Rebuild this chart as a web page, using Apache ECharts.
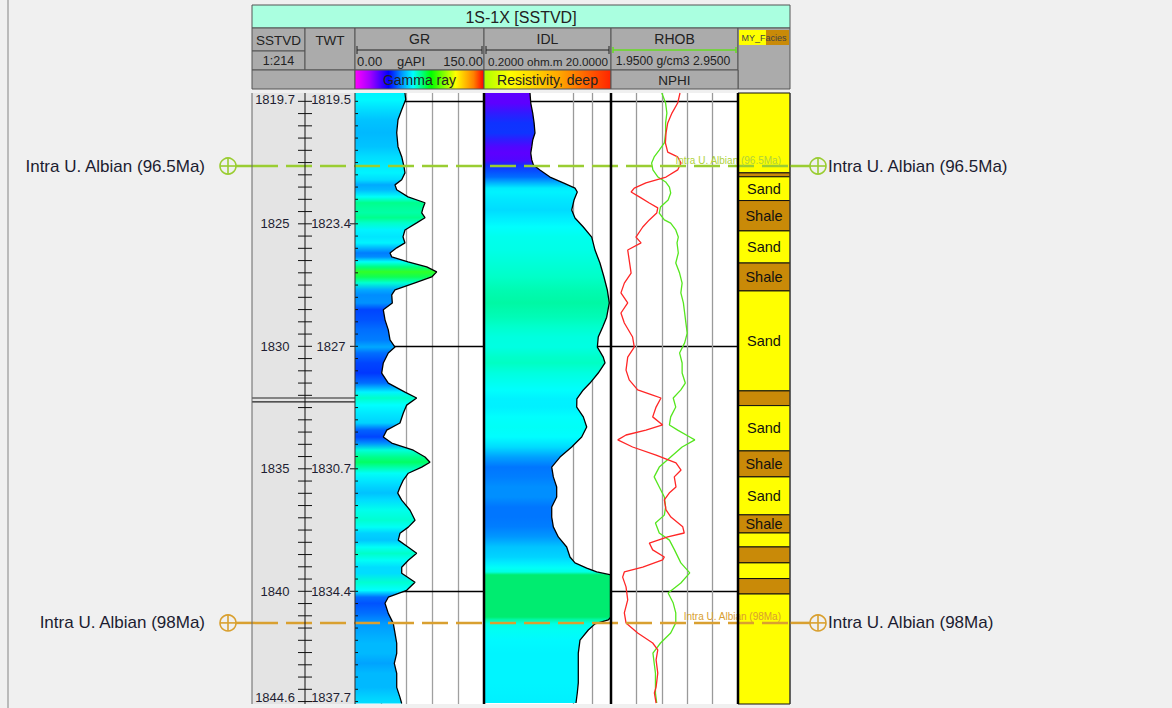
<!DOCTYPE html>
<html><head><meta charset="utf-8">
<script src="https://cdn.jsdelivr.net/npm/echarts@6/dist/echarts.min.js"></script>
<style>html,body{margin:0;padding:0;background:#f0f0f0;}#c{width:1172px;height:708px;}</style>
</head><body><div id="c"></div>
<script>
// ---------------- DATA ----------------
const depthTop = 1819.66, depthBottom = 1844.6;
const labelDepths = [1819.66, 1825, 1830, 1835, 1840, 1844.6];
const sstvdLabels = ['1819.7', '1825', '1830', '1835', '1840', '1844.6'];
const twtLabels = ['1819.5', '1823.4', '1827', '1830.7', '1834.4', '1837.7'];
const refDepths = [1820, 1830, 1840];
const breakDepths = [1832.11, 1832.27];

const grDepth = [1819.66,1819.93,1820.34,1820.75,1821.28,1821.85,1822.26,1822.67,1822.92,1823.20,1823.41,1823.61,1823.90,1824.14,1824.35,1824.55,1824.75,1824.96,1825.25,1825.53,1825.78,1825.98,1826.19,1826.35,1826.55,1826.76,1826.96,1827.17,1827.41,1827.70,1827.90,1828.23,1828.51,1828.92,1829.33,1829.74,1830.03,1830.27,1830.68,1831.09,1831.50,1831.87,1832.11,1832.40,1832.72,1833.13,1833.42,1833.70,1833.95,1834.24,1834.52,1834.73,1834.93,1835.18,1835.46,1835.75,1835.99,1836.28,1836.69,1837.10,1837.38,1837.63,1837.91,1838.20,1838.45,1838.73,1839.02,1839.26,1839.63,1839.96,1840.24,1840.49,1840.90,1841.31,1841.71,1842.12,1842.53,1842.94,1843.35,1843.92,1844.33,1844.58];
const grValues = [58.1,59.0,54.3,50.0,48.5,50.0,54.3,57.0,58.1,54.3,46.5,48.5,61.6,81.4,79.1,77.6,81.4,71.7,58.1,55.8,58.1,48.5,40.7,42.7,61.6,83.4,95.0,89.2,69.8,46.5,42.7,43.4,32.9,34.9,38.7,40.7,46.5,38.7,32.9,31.0,38.7,58.1,71.7,60.1,56.2,52.3,36.9,32.9,42.7,67.8,81.4,87.2,77.6,62.0,56.2,52.3,49.7,54.3,64.0,69.8,62.0,52.3,50.3,62.0,71.7,62.0,54.3,54.3,69.8,60.1,38.7,34.9,38.7,44.5,46.5,48.5,48.5,45.7,48.5,48.5,52.3,54.3];

const idlDepth = [1819.66,1820.07,1820.48,1820.88,1821.29,1821.58,1821.86,1822.11,1822.39,1822.60,1822.80,1823.09,1823.33,1823.54,1823.70,1824.03,1824.44,1824.76,1825.13,1825.54,1826.07,1826.60,1827.17,1827.70,1828.23,1828.81,1829.21,1829.62,1830.03,1830.44,1830.68,1831.09,1831.50,1831.78,1832.15,1832.48,1832.88,1833.29,1833.70,1834.11,1834.52,1834.93,1835.33,1835.74,1836.15,1836.56,1836.97,1837.37,1837.78,1838.19,1838.60,1838.84,1839.05,1839.21,1839.33,1839.82,1840.35,1841.05,1841.17,1841.33,1841.58,1841.99,1842.52,1843.09,1843.74,1844.15,1844.56];
const idlValues = [1.06,1.09,1.17,1.23,1.27,1.17,1.13,1.09,1.13,1.20,1.52,2.19,3.55,5.42,5.89,5.23,4.81,5.42,7.33,9.94,11.2,13.4,15.5,17.5,18.8,17.1,14.8,12.6,12.2,15.1,16.1,12.6,9.34,7.33,5.8,5.77,7.33,8.29,6.91,4.81,3.15,2.33,2.47,2.79,2.79,2.33,2.33,2.47,2.96,4.01,4.52,5.42,8.29,11.9,20,20,20,20,18.1,11.2,8.78,6.50,6.11,6.11,6.11,5.89,5.62];

const rhobDepth = [1819.66,1820.07,1820.48,1820.88,1821.29,1821.70,1821.99,1822.27,1822.52,1822.80,1823.09,1823.29,1823.50,1823.74,1824.03,1824.31,1824.56,1824.84,1824.97,1825.25,1825.54,1825.78,1826.19,1826.60,1827.01,1827.42,1827.82,1828.23,1828.64,1829.05,1829.46,1829.86,1830.27,1830.68,1831.09,1831.50,1831.78,1832.11,1832.48,1832.88,1833.21,1833.42,1833.70,1833.82,1834.11,1834.52,1834.93,1835.33,1835.74,1836.15,1836.56,1836.89,1837.21,1837.62,1837.91,1838.31,1838.84,1839.25,1839.66,1840.07,1840.48,1840.88,1841.29,1841.70,1842.11,1842.52,1842.93,1843.34,1843.74,1844.15,1844.56];
const rhobValues = [2.35,2.38,2.39,2.38,2.38,2.37,2.33,2.29,2.27,2.28,2.32,2.38,2.41,2.42,2.40,2.34,2.33,2.37,2.42,2.46,2.48,2.47,2.48,2.46,2.49,2.51,2.50,2.52,2.53,2.54,2.55,2.53,2.49,2.51,2.51,2.535,2.50,2.44,2.46,2.42,2.41,2.475,2.57,2.61,2.51,2.42,2.33,2.29,2.33,2.37,2.38,2.37,2.30,2.33,2.41,2.45,2.50,2.57,2.50,2.40,2.44,2.46,2.46,2.42,2.34,2.28,2.29,2.30,2.30,2.30,2.31];

const nphiDepth = [1819.66,1820.07,1820.48,1820.88,1821.29,1821.70,1822.07,1822.27,1822.52,1822.80,1823.09,1823.33,1823.54,1823.70,1823.90,1824.15,1824.35,1824.56,1824.84,1825.13,1825.54,1825.78,1826.07,1826.48,1827.01,1827.42,1827.82,1828.23,1828.64,1829.05,1829.62,1830.03,1830.44,1830.97,1831.37,1831.78,1831.99,1832.11,1832.48,1832.88,1833.21,1833.42,1833.62,1833.82,1834.11,1834.44,1834.76,1835.05,1835.33,1835.74,1835.99,1836.27,1836.68,1836.97,1837.37,1837.62,1837.78,1838.03,1838.31,1838.60,1838.72,1839.01,1839.21,1839.42,1839.82,1840.35,1840.88,1841.29,1841.70,1842.11,1842.39,1842.80,1843.34,1843.91,1844.15,1844.56];
const nphiValues = [0.124,0.135,0.162,0.182,0.190,0.193,0.182,0.135,0.119,0.135,0.190,0.285,0.340,0.355,0.316,0.269,0.229,0.234,0.269,0.300,0.332,0.308,0.371,0.364,0.355,0.387,0.403,0.371,0.403,0.387,0.348,0.340,0.371,0.379,0.364,0.324,0.253,0.214,0.237,0.253,0.206,0.285,0.379,0.418,0.348,0.237,0.143,0.119,0.151,0.143,0.175,0.198,0.190,0.167,0.111,0.104,0.182,0.269,0.253,0.198,0.206,0.300,0.387,0.395,0.379,0.371,0.387,0.379,0.324,0.253,0.229,0.237,0.229,0.237,0.245,0.237];

const faciesTop  = [1818.5,1822.92,1823.08,1824.05,1825.29,1826.60,1827.74,1831.82,1832.42,1834.27,1835.33,1836.88,1837.62,1838.19,1838.84,1839.48,1840.11];
const faciesBase = [1822.92,1823.08,1824.05,1825.29,1826.60,1827.74,1831.82,1832.42,1834.27,1835.33,1836.88,1837.62,1838.19,1838.84,1839.48,1840.11,1846.0];
const faciesType = ['Sand','Shale','Sand','Shale','Sand','Shale','Sand','Shale','Sand','Shale','Sand','Shale','Sand','Shale','Sand','Shale','Sand'];

const markerNames = ['Intra U. Albian (96.5Ma)', 'Intra U. Albian (98Ma)'];
const markerDepths = [1822.64, 1841.29];

// ---------------- STYLE ----------------
const FONT = '"Liberation Sans", Arial, sans-serif';
const markerColors = ['#9acd32', '#d9a030'];
const markerTextColors = ['#b0d23c', '#d9a030'];
const faciesColors = {Sand: '#ffff00', Shale: '#c98a08'};
const grPaletteStops = [[0,'#ff00ff'],[15,'#8000ff'],[30,'#0030ff'],[40,'#0078ff'],[50,'#00c4ff'],[60,'#00ffff'],[75,'#00ffb8'],[87,'#00ff66'],[100,'#50ff00'],[115,'#ffff00'],[130,'#ff9000'],[150,'#ff0000']];
const idlPaletteStops = [[0.2,'#ff00ff'],[1.12,'#5a00ff'],[1.21,'#1030ff'],[2.0,'#0060ff'],[2.8,'#0090ff'],[4.0,'#00c4ff'],[5.5,'#00eeff'],[7,'#00ffff'],[12,'#00ffe4'],[16,'#00ffc4'],[18.8,'#00f8a4'],[20,'#00ec70']];

function hexToRgb(h){return [parseInt(h.slice(1,3),16),parseInt(h.slice(3,5),16),parseInt(h.slice(5,7),16)];}
function makePalette(stops, logScale){
  const t = x => logScale ? Math.log10(x) : x;
  return function(v){
    const tv = t(v);
    if (tv <= t(stops[0][0])) return stops[0][1];
    for (let i = 1; i < stops.length; i++){
      const a = t(stops[i-1][0]), b = t(stops[i][0]);
      if (tv <= b){
        const f = (tv - a) / (b - a);
        const c0 = hexToRgb(stops[i-1][1]), c1 = hexToRgb(stops[i][1]);
        return 'rgb(' + c0.map((c,k)=>Math.round(c + (c1[k]-c)*f)).join(',') + ')';
      }
    }
    return stops[stops.length-1][1];
  };
}
const grPalette = makePalette(grPaletteStops, false);
const idlPalette = makePalette(idlPaletteStops, true);

const halfTicks = [];
for (let d = 1820; d <= 1844.5 + 1e-9; d += 0.5) halfTicks.push(+d.toFixed(1));
const majorTicks = labelDepths.slice(1, -1);

function labelFor(arr){
  return function(v){ const i = labelDepths.findIndex(d => Math.abs(d - v) < 1e-6); return i >= 0 ? arr[i] : ''; };
}

function fillRender(depths, values, baseValue, palette){
  return function(params, api){
    const pts = depths.map((d,i)=>api.coord([values[i], d]));
    const baseX = api.coord([baseValue, depths[0]])[0];
    const y0 = pts[0][1], y1 = pts[pts.length-1][1];
    const stops = pts.map((p,i)=>({offset: Math.min(1, Math.max(0, (p[1]-y0)/(y1-y0))), color: palette(values[i])}));
    return {type:'polygon', silent:true, shape:{points: pts.concat([[baseX,y1],[baseX,y0]])},
      style:{fill: new echarts.graphic.LinearGradient(0,0,0,1,stops), stroke:null}};
  };
}

// ---------------- HEADER (graphic) ----------------
const G = [];
function rect(x,y,w,h,fill,stroke){ G.push({type:'rect', silent:true, z:100, shape:{x,y,width:w,height:h}, style:{fill, stroke: stroke===undefined?'#555':stroke, lineWidth:1}}); }
function text(str,x,y,size,align,color){ G.push({type:'text', silent:true, z:101, style:{text:str, x, y, font: size+'px '+FONT, fill: color||'#222', align: align||'center', verticalAlign:'middle'}}); }
function line(x1,y1,x2,y2,color,w){ G.push({type:'line', silent:true, z:102, shape:{x1,y1,x2,y2}, style:{stroke:color, lineWidth:w}}); }
const HG = '#ababab';
line(8,0,8,708,'#a8a8a8',1.5);
rect(252,5,538,23,'#aaffe0'); text('1S-1X [SSTVD]',521,17,16);
rect(252,28,53,23,HG); text('SSTVD',278.5,40,13.5);
rect(252,51,53,19,HG); text('1:214',278.5,61,12.5);
rect(305,28,50,42,HG); text('TWT',330,40,13.5);
rect(355,28,129,42,HG); text('GR',419.5,39,14);
line(357,50,482,50,'#222',1); line(357,46,357,54,'#222',1); line(482,46,482,54,'#222',1);
text('0.00',357,61,13,'left'); text('gAPI',411,61,13); text('150.00',483,61,13,'right');
rect(484,28,127,42,HG); text('IDL',547.5,39,14);
line(486,50,609,50,'#222',1); line(486,46,486,54,'#222',1); line(609,46,609,54,'#222',1);
text('0.2000 ohm.m 20.0000',548,61,11.7);
rect(611,28,127,42,HG); text('RHOB',674.5,39,14);
line(613,50,736,50,'#66dd22',1.5); line(613,47,613,53,'#66dd22',1.5); line(736,47,736,53,'#66dd22',1.5);
text('1.9500 g/cm3 2.9500',673,61,12.2);
rect(738,28,52,61,HG);
rect(739,30,27,15,'#ffff00',null); rect(766,30,23,15,'#c98a08',null); text('MY_Facies',764,37.5,9,'center','#444');
rect(252,70,103,19,HG);
rect(355,70,129,19,new echarts.graphic.LinearGradient(0,0,1,0,[{offset:0,color:'#ff00ff'},{offset:0.12,color:'#a000ff'},{offset:0.26,color:'#0000ff'},{offset:0.37,color:'#00a0ff'},{offset:0.45,color:'#00ffff'},{offset:0.59,color:'#00ff00'},{offset:0.78,color:'#ffff00'},{offset:0.92,color:'#ff8000'},{offset:1,color:'#ff0000'}]));
text('Gamma ray',419.5,80,14);
rect(484,70,127,19,new echarts.graphic.LinearGradient(0,0,1,0,[{offset:0,color:'#aaff00'},{offset:0.2,color:'#ffff00'},{offset:0.6,color:'#ffa500'},{offset:1,color:'#ff2400'}]));
text('Resistivity, deep',547.5,80,14);
rect(611,70,127,19,HG); text('NPHI',674.5,80,13.5);
// track borders
line(252,93,252,704,'#666',1);
line(305,93,305,704,'#111',1);
line(355,93,355,704,'#333',1);
line(484,93,484,704,'#000',2.5);
line(611,93,611,704,'#000',2.5);
line(738,93,738,704,'#000',2.5);
line(790,93,790,704,'#444',1);

// ---------------- CHART ----------------
const chart = echarts.init(document.getElementById('c'), null, {renderer:'svg'});
const gridBase = {top:93, bottom:4, outerBoundsMode:'none', containLabel:false};
const depthAxis = {type:'value', min:depthTop, max:depthBottom, inverse:true};
const labelStyle = {fontSize:13, color:'#1e1e32', fontFamily:FONT};
const hiddenX = (g,min,max,extra) => Object.assign({type:'value', gridIndex:g, min, max, show:false}, extra||{});

const option = {
  backgroundColor:'#f0f0f0',
  animation:false,
  textStyle:{fontFamily:FONT},
  graphic:{elements:G},
  grid:[
    Object.assign({left:252, width:53, show:true, backgroundColor:'#e4e4e4', borderWidth:0}, gridBase),
    Object.assign({left:305, width:50, show:true, backgroundColor:'#e4e4e4', borderWidth:0}, gridBase),
    Object.assign({left:355, width:129, show:true, backgroundColor:'#ffffff', borderWidth:0}, gridBase),
    Object.assign({left:484, width:127, show:true, backgroundColor:'#ffffff', borderWidth:0}, gridBase),
    Object.assign({left:611, width:127, show:true, backgroundColor:'#ffffff', borderWidth:0}, gridBase),
    Object.assign({left:738, width:52, show:false}, gridBase),
    Object.assign({left:0, right:0, show:false}, gridBase)
  ],
  xAxis:[
    hiddenX(0,0,1), hiddenX(1,0,1),
    {type:'value', gridIndex:2, min:0, max:150, interval:30, axisLine:{show:false}, axisTick:{show:false}, axisLabel:{show:false},
      splitLine:{show:true, lineStyle:{color:'#a0a0a0', width:1.3}}},
    {type:'log', logBase:10, gridIndex:3, min:0.2, max:20, show:false},
    hiddenX(4,1.95,2.95),
    hiddenX(4,-0.15,0.45,{inverse:true}),
    hiddenX(5,0,1),
    hiddenX(6,0,1172)
  ],
  yAxis:[
    Object.assign({gridIndex:0, position:'right', axisLine:{show:false}, axisTick:{show:false},
      axisLabel:Object.assign({show:true, inside:true, margin:30, align:'center', customValues:labelDepths, formatter:labelFor(sstvdLabels),
        verticalAlignMinLabel:'top', verticalAlignMaxLabel:'bottom'}, labelStyle),
      splitLine:{show:false}}, depthAxis),
    Object.assign({gridIndex:1, position:'right', axisLine:{show:false}, axisTick:{show:false},
      axisLabel:Object.assign({show:true, inside:true, margin:24, align:'center', customValues:labelDepths, formatter:labelFor(twtLabels),
        verticalAlignMinLabel:'top', verticalAlignMaxLabel:'bottom'}, labelStyle),
      splitLine:{show:false}}, depthAxis),
    Object.assign({gridIndex:2, show:false}, depthAxis),
    Object.assign({gridIndex:3, show:false}, depthAxis),
    Object.assign({gridIndex:4, show:false}, depthAxis),
    Object.assign({gridIndex:5, show:false}, depthAxis),
    Object.assign({gridIndex:6, show:false}, depthAxis)
  ],
  series:[
    // GR fill
    {type:'custom', xAxisIndex:2, yAxisIndex:2, z:2, silent:true, data:[[grValues[0], grDepth[0]]],
      renderItem: fillRender(grDepth, grValues, 0, grPalette)},
    // GR outline
    {type:'line', name:'GR', xAxisIndex:2, yAxisIndex:2, z:4, silent:true, symbol:'none',
      lineStyle:{color:'#000', width:1.3}, data: grDepth.map((d,i)=>[grValues[i], d]),
      markLine:{silent:true, z:1, symbol:['none','none'], animation:false, label:{show:false},
        lineStyle:{color:'#000', type:'solid', width:1.3}, data: refDepths.map(d=>({yAxis:d}))}},
    // IDL fill
    {type:'custom', xAxisIndex:3, yAxisIndex:3, z:2, silent:true, data:[[idlValues[0], idlDepth[0]]],
      renderItem: fillRender(idlDepth, idlValues, 0.2, idlPalette)},
    // IDL outline
    {type:'line', name:'IDL', xAxisIndex:3, yAxisIndex:3, z:4, silent:true, symbol:'none',
      lineStyle:{color:'#000', width:1.3}, data: idlDepth.map((d,i)=>[idlValues[i], d]),
      markLine:{silent:true, z:1, symbol:['none','none'], animation:false, label:{show:false},
        lineStyle:{color:'#000', type:'solid', width:1.3},
        data: refDepths.map(d=>({yAxis:d})).concat([5,10].map(v=>({xAxis:v, lineStyle:{color:'#9a9a9a', type:'solid', width:1.3}})))}},
    // RHOB
    {type:'line', name:'RHOB', xAxisIndex:4, yAxisIndex:4, z:4, silent:true, symbol:'none',
      lineStyle:{color:'#55e61e', width:1.3}, data: rhobDepth.map((d,i)=>[rhobValues[i], d]),
      markLine:{silent:true, z:1, symbol:['none','none'], animation:false, label:{show:false},
        lineStyle:{color:'#000', type:'solid', width:1.3},
        data: refDepths.map(d=>({yAxis:d})).concat([2.15,2.35,2.55,2.75].map(v=>({xAxis:v, lineStyle:{color:'#9a9a9a', type:'solid', width:1.3}})))}},
    // NPHI
    {type:'line', name:'NPHI', xAxisIndex:5, yAxisIndex:4, z:4, silent:true, symbol:'none',
      lineStyle:{color:'#ff2626', width:1.3}, data: nphiDepth.map((d,i)=>[nphiValues[i], d])},
    // Facies
    {type:'custom', xAxisIndex:6, yAxisIndex:5, z:3, silent:true,
      data: faciesTop.map((t,i)=>[t, faciesBase[i]]),
      renderItem(params, api){
        const i = params.dataIndex;
        const top = api.value(0), base = api.value(1);
        const p0 = api.coord([0, top]), p1 = api.coord([1, base]);
        const cs = params.coordSys;
        const r = echarts.graphic.clipRectByRect({x:p0[0], y:p0[1], width:p1[0]-p0[0], height:p1[1]-p0[1]},
          {x:cs.x, y:cs.y, width:cs.width, height:cs.height});
        if (!r) return null;
        const name = faciesType[i];
        const ch = [{type:'rect', shape:r, style:{fill:faciesColors[name], stroke:'#111', lineWidth:1}}];
        const full = p0[1] >= cs.y - 0.5 && p1[1] <= cs.y + cs.height + 0.5;
        if (full && r.height >= 17) ch.push({type:'text', style:{text:name, x:r.x + r.width/2, y:r.y + r.height/2,
          align:'center', verticalAlign:'middle', font:'14.5px '+FONT, fill:'#111'}});
        return {type:'group', children:ch};
      }},
    // depth-column ticks (half metre)
    {type:'custom', xAxisIndex:7, yAxisIndex:6, z:8, silent:true, data: halfTicks.map(d=>[0,d]),
      renderItem(params, api){
        const d = api.value(1);
        const y = api.coord([0, d])[1];
        const X = v => api.coord([v, d])[0];
        const major = majorTicks.indexOf(d) >= 0;
        const ch = [
          {type:'line', shape:{x1:X(298), y1:y, x2:X(312), y2:y}, style:{stroke:'#111', lineWidth:1}},
          {type:'line', shape:{x1:X(major ? 350 : 355), y1:y, x2:X(358), y2:y}, style:{stroke:'#111', lineWidth:1}}
        ];
        return {type:'group', children:ch};
      }},
    // break lines in depth column
    {type:'custom', xAxisIndex:7, yAxisIndex:6, z:8, silent:true, data: breakDepths.map(d=>[0,d]),
      renderItem(params, api){
        const d = api.value(1);
        const a = api.coord([252, d]), b = api.coord([355, d]);
        return {type:'line', shape:{x1:a[0], y1:a[1], x2:b[0], y2:b[1]}, style:{stroke:'#222', lineWidth:1.2}};
      }},
    // Markers
    {type:'custom', xAxisIndex:7, yAxisIndex:6, z:10, silent:true, clip:false, data: markerDepths.map(d=>[0,d]),
      renderItem(params, api){
        const i = params.dataIndex;
        const d = api.value(1);
        const X = v => api.coord([v, d])[0];
        const y = api.coord([0, d])[1];
        const col = markerColors[i];
        const ch = [];
        const seg = (x1,x2,dash) => ch.push({type:'line', shape:{x1:X(x1), y1:y, x2:X(x2), y2:y},
          style:{stroke:col, lineWidth:2.5, lineDash:dash||null}});
        const circ = cx => {
          ch.push({type:'circle', shape:{cx:X(cx), cy:y, r:8}, style:{fill:'none', stroke:col, lineWidth:1.6}});
          ch.push({type:'line', shape:{x1:X(cx)-8, y1:y, x2:X(cx)+8, y2:y}, style:{stroke:col, lineWidth:1.6}});
          ch.push({type:'line', shape:{x1:X(cx), y1:y-8, x2:X(cx), y2:y+8}, style:{stroke:col, lineWidth:1.6}});
        };
        seg(236,252); seg(252,790,[26,8]); seg(790,810);
        circ(228); circ(818);
        ch.push({type:'text', style:{text:markerNames[i], x:X(205), y:y, align:'right', verticalAlign:'middle', font:'17px '+FONT, fill:'#1c1c30'}});
        ch.push({type:'text', style:{text:markerNames[i], x:X(828), y:y, align:'left', verticalAlign:'middle', font:'17px '+FONT, fill:'#1c1c30'}});
        ch.push({type:'text', style:{text:markerNames[i], x:X(781), y:y-1, align:'right', verticalAlign:'bottom', font:'10px '+FONT, fill:markerTextColors[i]}});
        return {type:'group', children:ch};
      }}
  ]
};
chart.setOption(option);
</script></body></html>
